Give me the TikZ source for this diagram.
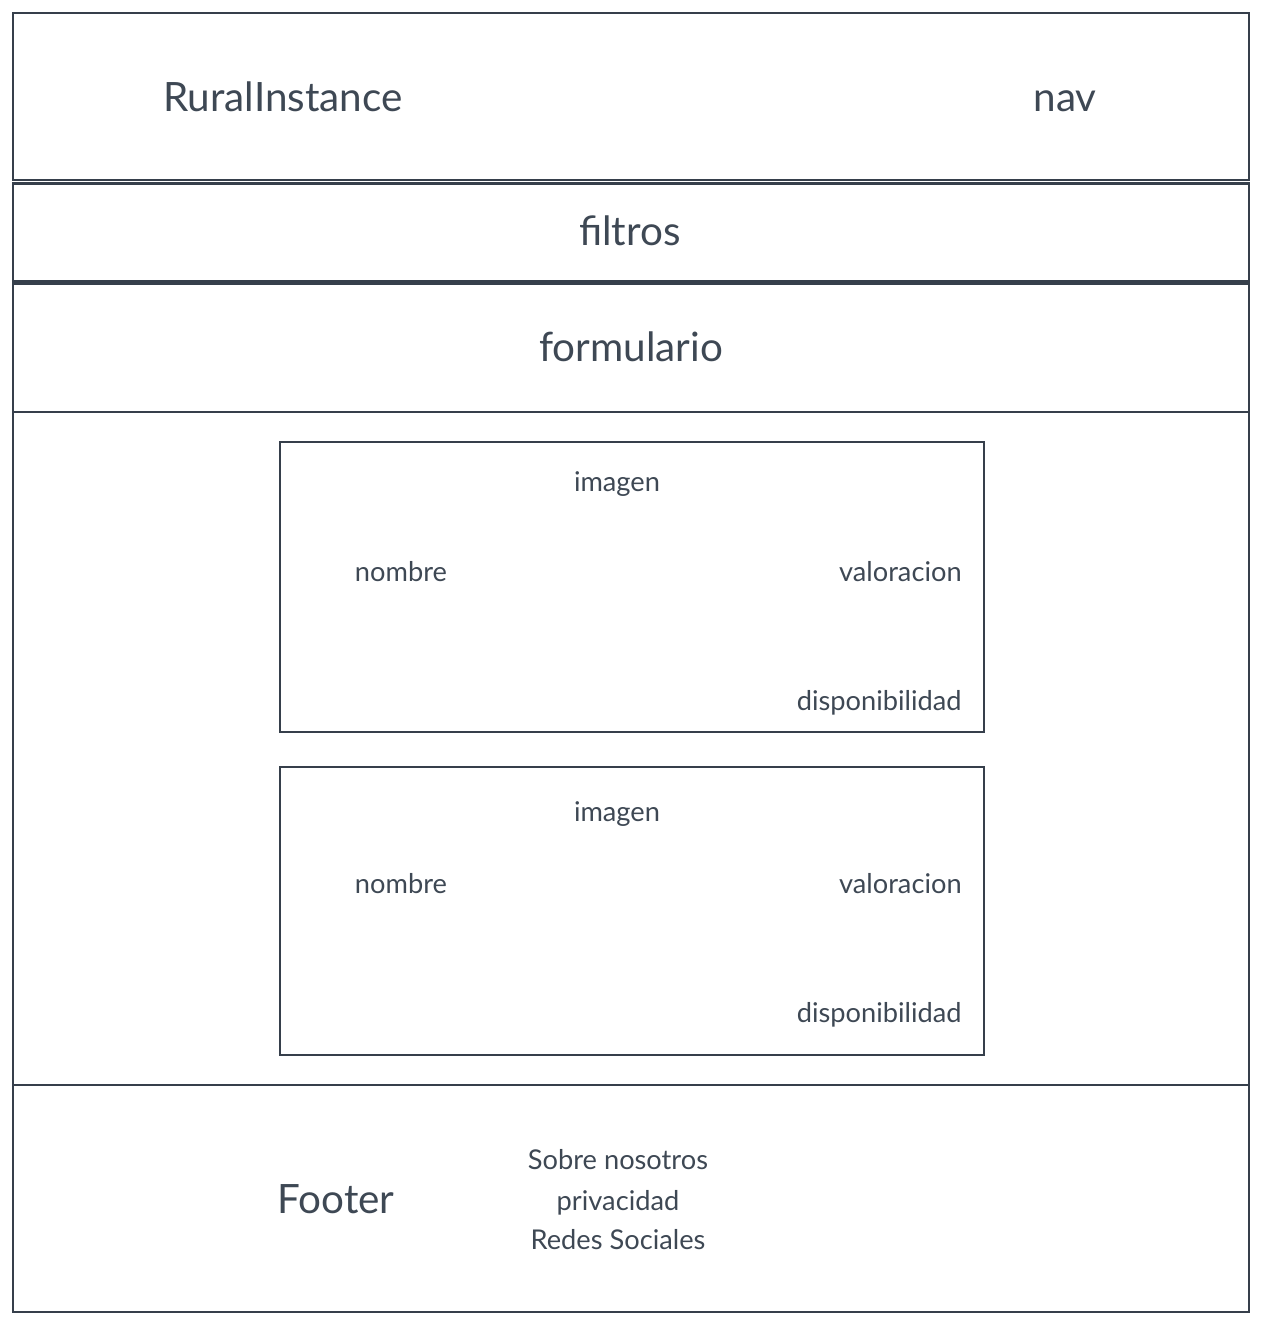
\documentclass[tikz,border=0pt]{standalone}
\usepackage{fontspec}
\setmainfont{Lato}
\definecolor{ink}{HTML}{363F4B}
\definecolor{txt}{HTML}{3E4854}
\begin{document}
\begin{tikzpicture}[
    x=0.02cm, y=-0.02cm,
    panel/.style={draw=ink, line width=1.6pt},
    card/.style={draw=ink, line width=1.5pt},
    big/.style={font=\fontsize{23}{27}\selectfont, text=txt, inner sep=0pt, anchor=base},
    small/.style={font=\fontsize{15.5}{19}\selectfont, text=txt, inner sep=0pt, anchor=base},
    smallr/.style={small, anchor=base east}
  ]
  \useasboundingbox (0,0) rectangle (1264,1326);

  % Sections of the page
  \draw[panel] (13,13) rectangle (1249,180);
  \draw[panel] (13,183.5) rectangle (1249,281.5);
  \draw[panel] (13,283.5) rectangle (1249,412);
  \draw[panel] (13,412) rectangle (1249,1085);
  \draw[panel] (13,1085) rectangle (1249,1312);

  \node[big] (brand) at (283, 111) {RuralInstance};
  \node[big] (nav) at (1065, 111) {nav};
  \node[big] (filtros) at (630, 245) {filtros};
  \node[big] (form) at (631, 361.5) {formulario};

  % Cards
  \draw[card] (280,442) rectangle (984,732);
  \node[small] (img1) at (617, 491.5) {imagen};
  \node[small] (nom1) at (401, 581.5) {nombre};
  \node[smallr] (val1) at (962, 581.5) {valoracion};
  \node[smallr] (disp1) at (962, 710) {disponibilidad};

  \draw[card] (280,767) rectangle (984,1055);
  \node[small] (img2) at (617, 821) {imagen};
  \node[small] (nom2) at (401, 893.5) {nombre};
  \node[smallr] (val2) at (962, 893.5) {valoracion};
  \node[smallr] (disp2) at (962, 1022) {disponibilidad};

  % Footer
  \node[big] (footer) at (336, 1213) {Footer};
  \node[small] (sobre) at (618, 1169.5) {Sobre nosotros};
  \node[small] (priv) at (618, 1210) {privacidad};
  \node[small] (redes) at (618, 1249.5) {Redes Sociales};

\end{tikzpicture}
\end{document}
